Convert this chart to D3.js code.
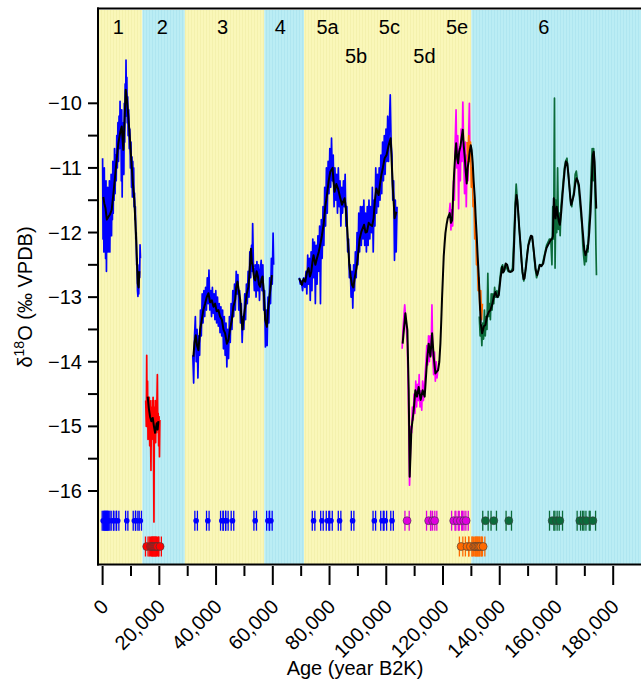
<!DOCTYPE html>
<html><head><meta charset="utf-8">
<script src="https://cdn.jsdelivr.net/npm/d3@7"></script>
<style>body{margin:0;background:#fff}svg{display:block}</style>
</head><body>
<svg id="c" width="641" height="687"></svg>
<script>
// ---------- DATA ----------
const stageBounds = [0, 14000, 29000, 57000, 71000, 130000, 200000];
const stageKind = ['warm','cold','warm','cold','warm','cold'];
const stageLabels = ['1','2','3','4','5a','5b','5c','5d','5e','6'];
const stageLabelAge = [5540, 21070, 42250, 62610, 79310, 89330, 101090, 113440, 124980, 155540];
const stageLabelRow = [0,0,0,0,0,1,0,1,0,0];

const xTicks = [0,20000,40000,60000,80000,100000,120000,140000,160000,180000];
const xTickLabels = ['0','20,000','40,000','60,000','80,000','100,000','120,000','140,000','160,000','180,000'];
const xMinorTicks = [10000,30000,50000,70000,90000,110000,130000,150000,170000];
const yTicks = [-10,-11,-12,-13,-14,-15,-16];
const yTickLabels = ['\u221210','\u221211','\u221212','\u221213','\u221214','\u221215','\u221216'];
const yMinorTicks = [-10.5,-11.5,-12.5,-13.5,-14.5,-15.5];

// raw records [age (yr B2K), d18O]
const rawMIS1 = [[0,-10.85],[150,-12.1],[300,-11.3],[450,-12.3],[600,-11.0],[750,-11.9],[900,-11.4],[1050,-12.4],[1200,-11.2],[1350,-12.6],[1500,-11.5],[1650,-12.2],[1800,-11.3],[1950,-12.3],[2100,-11.5],[2250,-12.0],[2400,-11.2],[2550,-12.3],[2700,-11.6],[2850,-11.9],[3000,-11.1],[3150,-12.05],[3300,-11.3],[3450,-11.8],[3600,-10.9],[3750,-11.7],[3900,-11.0],[4050,-11.5],[4200,-10.7],[4400,-11.4],[4600,-10.8],[4800,-11.2],[5000,-10.5],[5200,-11.0],[5400,-10.3],[5600,-10.9],[5800,-10.2],[6000,-10.7],[6150,-9.97],[6300,-10.6],[6450,-10.2],[6600,-11.2],[6750,-10.1],[6900,-11.45],[7050,-10.4],[7200,-10.9],[7350,-10.3],[7500,-11.1],[7650,-10.0],[7800,-10.6],[7950,-9.7],[8100,-10.2],[8250,-9.33],[8400,-10.0],[8550,-9.6],[8700,-10.3],[8850,-9.9],[9000,-10.5],[9200,-10.1],[9400,-10.7],[9600,-10.4],[9800,-11.0],[10000,-10.6],[10200,-11.3],[10350,-10.83],[10500,-11.45],[10650,-10.9],[10800,-11.3],[10950,-11.0],[11100,-11.6],[11250,-11.39],[11400,-11.8],[11550,-11.6],[11700,-12.1],[11850,-12.0],[12000,-12.5],[12150,-12.4],[12300,-12.9],[12450,-12.99],[12600,-12.6],[12750,-12.95],[12900,-12.5],[13050,-12.7],[13200,-12.19],[13350,-12.4]];
const rawMIS2 = [[15200,-14.6],[15400,-15.0],[15550,-13.9],[15700,-14.9],[15850,-14.3],[16000,-15.2],[16150,-14.6],[16300,-15.0],[16450,-14.55],[16600,-15.3],[16750,-14.6],[16900,-15.1],[17050,-15.68],[17200,-14.7],[17350,-15.2],[17500,-14.6],[17650,-15.1],[17800,-14.55],[17950,-15.3],[18100,-16.48],[18250,-14.7],[18400,-15.2],[18550,-14.6],[18700,-15.25],[18850,-14.7],[19000,-15.1],[19150,-14.6],[19300,-14.2],[19450,-15.0],[19600,-14.8],[19750,-15.3],[19900,-14.85],[20050,-15.47],[20200,-14.9]];
const rawMIS3 = [[31800,-13.9],[32100,-14.33],[32400,-13.6],[32700,-13.3],[33000,-14.0],[33300,-13.5],[33600,-14.25],[33900,-13.6],[34200,-13.9],[34500,-13.2],[34800,-13.6],[35100,-12.95],[35400,-13.4],[35700,-12.9],[36000,-13.3],[36300,-12.85],[36600,-13.2],[36900,-12.7],[37200,-13.1],[37500,-12.58],[37800,-13.2],[38100,-12.9],[38400,-13.3],[38700,-12.85],[39000,-13.25],[39300,-12.95],[39600,-13.35],[39900,-12.9],[40200,-13.4],[40500,-13.0],[40800,-13.45],[41100,-13.1],[41400,-13.55],[41700,-13.15],[42000,-13.6],[42300,-13.2],[42600,-13.8],[42900,-13.3],[43200,-13.9],[43500,-13.4],[43800,-14.08],[44100,-13.5],[44400,-13.95],[44700,-13.3],[45000,-13.7],[45300,-13.1],[45600,-13.5],[45900,-12.9],[46200,-13.3],[46500,-12.8],[46800,-13.2],[47100,-12.6],[47400,-12.95],[47700,-12.65],[48000,-13.2],[48300,-12.9],[48600,-13.4],[48900,-13.1],[49200,-13.7],[49500,-13.3],[49800,-13.5],[50100,-12.95],[50400,-13.35],[50700,-12.8],[51000,-13.1],[51300,-12.6],[51600,-13.0],[51900,-12.3],[52200,-12.7],[52500,-12.2],[52700,-12.6],[52900,-11.86],[53200,-12.6],[53500,-12.9],[53800,-12.5],[54100,-13.0],[54400,-12.45],[54700,-12.9],[55000,-12.5],[55300,-13.05],[55600,-12.6],[55900,-12.43],[56200,-12.9],[56500,-12.5],[56800,-13.2],[57100,-12.9],[57400,-13.77],[57700,-13.2],[58000,-13.75],[58300,-13.0],[58600,-13.4],[58900,-12.7],[59200,-13.1],[59500,-12.4],[59800,-12.8],[60100,-12.01],[60300,-12.5]];
const rawMIS5 = [[69300,-12.7],[69700,-12.8],[70100,-12.75],[70500,-12.9],[70900,-12.7],[71300,-12.85],[71700,-12.6],[72000,-12.95],[72300,-12.35],[72600,-12.8],[72900,-12.4],[73200,-13.05],[73500,-12.3],[73800,-12.9],[74100,-12.1],[74400,-12.7],[74700,-12.15],[75000,-13.1],[75300,-12.2],[75600,-12.8],[75900,-12.05],[76200,-12.6],[76500,-11.9],[76800,-13.1],[77100,-11.8],[77400,-12.4],[77700,-11.6],[78000,-12.2],[78300,-11.3],[78600,-11.9],[78900,-11.0],[79200,-11.7],[79500,-10.9],[79800,-11.4],[80100,-10.7],[80400,-11.3],[80700,-10.54],[81000,-11.2],[81300,-10.8],[81600,-11.6],[81900,-11.0],[82200,-11.5],[82500,-11.1],[82800,-11.7],[83100,-11.0],[83400,-11.6],[83700,-11.2],[84000,-11.9],[84300,-11.3],[84600,-11.7],[84900,-11.2],[85200,-11.6],[85500,-11.1],[85800,-11.9],[86100,-11.6],[86400,-12.3],[86700,-12.1],[87000,-12.7],[87300,-12.5],[87600,-13.0],[87900,-12.6],[88200,-13.17],[88500,-12.5],[88800,-12.9],[89100,-12.3],[89400,-12.7],[89700,-12.0],[90000,-12.5],[90300,-11.7],[90600,-12.3],[90900,-11.6],[91200,-12.2],[91500,-11.6],[91800,-12.1],[92100,-11.5],[92400,-12.2],[92700,-11.7],[93000,-12.3],[93300,-11.6],[93600,-12.2],[93900,-11.5],[94200,-12.1],[94500,-11.6],[94800,-12.0],[95100,-11.3],[95400,-12.3],[95700,-11.5],[96000,-11.9],[96300,-11.0],[96600,-11.7],[96900,-11.1],[97200,-11.6],[97500,-11.0],[97800,-11.5],[98100,-10.8],[98400,-11.4],[98700,-10.6],[99000,-11.2],[99300,-10.5],[99600,-11.1],[99900,-10.4],[100200,-10.9],[100500,-10.2],[100800,-10.9],[101100,-10.3],[101400,-9.87],[101700,-10.6],[102000,-10.8],[102300,-11.5],[102600,-11.2],[102900,-12.43],[103200,-11.5],[103500,-12.3],[103800,-11.6]];
const rawMIS5deA = [[105600,-13.8],[105900,-13.5],[106200,-13.3],[106500,-13.12],[106800,-13.3],[107100,-13.5],[107400,-13.7],[107700,-14.3],[107950,-15.0],[108200,-15.91],[108450,-15.5],[108700,-15.0],[108950,-15.1],[109200,-14.7],[109500,-14.9],[109800,-14.5],[110100,-14.8],[110400,-14.3],[110700,-14.7],[111000,-14.35],[111300,-14.6],[111600,-14.2],[111900,-14.7],[112200,-14.45],[112500,-14.75],[112800,-14.3],[113100,-14.6],[113400,-14.4],[113700,-14.2],[114000,-14.0],[114300,-13.75],[114600,-14.05],[114900,-13.6],[115200,-14.0],[115500,-13.6],[115800,-13.9],[116100,-13.12],[116400,-13.9],[116700,-14.2],[117000,-13.85],[117300,-14.3],[117600,-14.0],[117900,-14.25],[118200,-14.1]];
const rawMIS5deB = [[122200,-11.7],[122500,-11.55],[122800,-11.96],[123100,-11.65],[123400,-11.9],[123700,-11.2],[124000,-11.5],[124300,-10.6],[124600,-10.1],[124900,-11.0],[125200,-10.5],[125500,-11.63],[125800,-10.7],[126100,-11.2],[126400,-10.4],[126700,-10.9],[127000,-9.98],[127300,-10.8],[127600,-11.4],[127900,-10.6],[128200,-11.6],[128500,-10.8],[128800,-11.2],[129100,-10.4],[129300,-10.0],[129500,-10.9]];
const rawTermII = [[128500,-10.6],[128800,-11.0],[129100,-10.5],[129400,-10.9],[129700,-10.6],[130000,-11.3],[130300,-11.0],[130600,-11.6],[130900,-11.5],[131200,-12.1],[131500,-11.9],[131800,-12.5],[132100,-12.4],[132400,-12.9],[132700,-12.7],[133000,-13.2],[133300,-12.9],[133600,-13.35],[133900,-13.1]];
const rawMIS6 = [[132800,-13.3],[133100,-13.6],[133400,-13.45],[133700,-13.75],[134000,-13.4],[134300,-13.65],[134600,-13.2],[134900,-13.6],[135200,-13.3],[135500,-13.5],[135800,-12.63],[136100,-13.3],[136400,-13.1],[136700,-13.35],[137000,-12.95],[137300,-13.2],[137600,-12.95],[137900,-13.1],[138200,-12.85],[138500,-13.0],[139000,-12.9],[139500,-13.0],[140000,-12.75],[140500,-12.55],[141000,-12.5],[141500,-12.6],[142000,-12.5],[142500,-12.55],[143000,-12.6],[143500,-12.6],[144000,-12.6],[144500,-12.55],[145000,-12.1],[145400,-11.6],[145800,-11.25],[146200,-11.5],[146600,-11.75],[147000,-12.0],[147500,-12.3],[148000,-12.62],[148500,-12.75],[149000,-12.6],[149500,-12.4],[150000,-12.2],[150500,-12.1],[151000,-12.05],[151500,-12.1],[152000,-12.3],[152500,-12.55],[153000,-12.7],[153500,-12.6],[154000,-12.5],[154500,-12.5],[155000,-12.5],[155500,-12.4],[156000,-12.3],[156500,-12.2],[157000,-12.15],[157500,-12.1],[158000,-12.1],[158400,-12.5],[158700,-11.6],[159000,-12.1],[159300,-9.92],[159500,-12.55],[159800,-11.5],[160100,-12.0],[160400,-11.0],[160700,-11.95],[161000,-11.7],[161300,-12.05],[161600,-11.6],[162000,-11.4],[162400,-11.2],[162800,-11.0],[163200,-10.9],[163700,-10.85],[164200,-11.1],[164600,-11.3],[165000,-11.55],[165400,-11.6],[165800,-11.45],[166200,-11.35],[166600,-11.1],[167000,-11.05],[167400,-11.2],[167800,-11.3],[168200,-11.5],[168600,-11.7],[169000,-11.9],[169300,-12.2],[169600,-12.37],[169900,-12.5],[170200,-12.3],[170500,-12.45],[170800,-12.2],[171100,-12.3],[171400,-11.9],[171700,-11.7],[172000,-11.4],[172300,-11.0],[172600,-10.7],[172900,-11.2],[173100,-10.7],[173400,-11.0],[173700,-11.6],[173900,-12.2],[174100,-12.66]];

// smoothed composite (black)
const smoothMIS1 = [[250,-11.45],[600,-11.55],[1000,-11.62],[1500,-11.8],[2000,-11.76],[2600,-11.72],[3200,-11.65],[3800,-11.4],[4380,-11.14],[5000,-10.85],[5540,-10.62],[6200,-10.45],[6740,-10.36],[7300,-10.72],[7700,-10.3],[8150,-9.79],[8600,-9.95],[9070,-10.2],[9700,-10.6],[10270,-10.98],[10700,-11.25],[11190,-11.5],[11790,-12.06],[12390,-12.79],[12700,-12.85],[12950,-12.6]];
const smoothMIS2 = [[15900,-14.54],[16300,-14.72],[16730,-14.85],[17200,-14.92],[17680,-14.87],[18100,-15.0],[18500,-15.1],[18800,-15.02],[19090,-14.95],[19400,-15.05],[19680,-14.92]];
const smoothMIS3 = [[32000,-13.92],[32400,-13.7],[32850,-13.59],[33300,-13.75],[33780,-13.82],[34400,-13.5],[34970,-13.35],[35500,-13.2],[36140,-13.1],[36700,-13.0],[37310,-12.94],[37900,-13.08],[38500,-13.05],[39100,-13.15],[39670,-13.1],[40200,-13.22],[40830,-13.2],[41400,-13.3],[42040,-13.35],[42600,-13.5],[43200,-13.56],[43800,-13.72],[44370,-13.66],[44900,-13.5],[45560,-13.35],[46100,-13.15],[46730,-13.04],[47100,-12.85],[47540,-12.76],[48000,-12.9],[48500,-13.04],[48900,-13.3],[49310,-13.5],[49800,-13.3],[50260,-13.15],[50800,-12.95],[51420,-12.84],[51900,-12.55],[52300,-12.25],[52600,-12.45],[52970,-12.53],[53400,-12.7],[53800,-12.74],[54300,-12.6],[54740,-12.68],[55100,-12.8],[55550,-12.84],[56000,-12.72],[56370,-12.68],[56800,-12.9],[57320,-13.35],[57920,-13.46],[58300,-13.2],[58730,-13.04],[59200,-12.85],[59680,-12.66]];
const smoothMIS5 = [[69320,-12.71],[70270,-12.81],[70800,-12.72],[71440,-12.76],[72000,-12.62],[72600,-12.55],[73100,-12.68],[73550,-12.61],[74000,-12.45],[74360,-12.35],[75000,-12.5],[75560,-12.4],[76200,-12.3],[76730,-12.19],[77300,-12.05],[77900,-11.88],[78500,-11.6],[79090,-11.42],[79700,-11.2],[80260,-11.06],[81070,-11.0],[81400,-11.2],[81780,-11.37],[82400,-11.25],[82980,-11.32],[83700,-11.45],[84390,-11.57],[85310,-11.47],[85700,-11.6],[86150,-11.88],[86970,-12.5],[87500,-12.7],[87920,-12.81],[88400,-12.85],[88840,-12.71],[89500,-12.55],[90040,-12.35],[90600,-12.1],[91200,-11.99],[92160,-11.88],[92700,-12.0],[93210,-11.99],[93800,-11.85],[94380,-11.88],[95000,-11.9],[95540,-11.78],[96000,-11.5],[96490,-11.32],[97310,-11.42],[97800,-11.25],[98260,-11.11],[98800,-11.0],[99420,-10.85],[100100,-10.8],[100840,-10.65],[101540,-10.54],[101900,-10.9],[102250,-11.26],[102950,-11.78],[103550,-11.68]];
const smoothMIS5e6 = [[105780,-13.72],[106730,-13.25],[107440,-13.51],[107910,-14.44],[108260,-15.78],[108850,-15.06],[109670,-14.75],[110260,-14.44],[110860,-14.54],[111420,-14.39],[112130,-14.59],[112830,-14.44],[113540,-14.54],[114390,-13.97],[114950,-13.72],[115550,-13.92],[116150,-13.56],[116720,-13.92],[117310,-14.18],[118270,-14.13],[118700,-14.0],[119080,-13.72],[119400,-13.35],[119680,-12.99],[120000,-12.65],[120250,-12.37],[120550,-12.18],[120850,-12.01],[121250,-11.88],[121660,-11.78],[122370,-11.7],[122800,-11.85],[123210,-11.81],[123600,-11.4],[123920,-11.08],[124300,-10.8],[124630,-10.62],[125000,-10.85],[125330,-10.93],[125700,-10.75],[126140,-10.67],[126500,-10.55],[126960,-10.41],[127300,-10.65],[127660,-10.83],[128000,-11.05],[128370,-11.24],[128700,-11.0],[129080,-10.88],[129400,-10.75],[129780,-10.65],[130100,-10.72],[130480,-10.93],[130800,-11.2],[131190,-11.45],[131500,-11.75],[131890,-12.06],[132200,-12.35],[132600,-12.68],[132950,-13.05],[133310,-13.41],[133800,-13.56],[134400,-13.45],[134960,-13.43],[135500,-13.3],[136130,-13.23],[136700,-13.2],[137320,-13.12],[137900,-13.0],[138490,-12.92],[139100,-13.0],[139660,-12.97],[140300,-12.7],[140860,-12.53],[141200,-12.62],[141670,-12.58],[142100,-12.48],[142620,-12.5],[143200,-12.6],[143790,-12.61],[144300,-12.6],[144740,-12.58],[145000,-12.25],[145310,-11.88],[145600,-11.55],[145910,-11.42],[146200,-11.5],[146510,-11.68],[146900,-11.95],[147320,-12.19],[147700,-12.45],[148030,-12.61],[148400,-12.72],[148730,-12.71],[149200,-12.55],[149680,-12.35],[150100,-12.2],[150600,-12.12],[151000,-12.05],[151450,-12.06],[151850,-12.22],[152260,-12.4],[152700,-12.58],[153210,-12.66],[153700,-12.58],[154130,-12.5],[154700,-12.52],[155330,-12.48],[155900,-12.35],[156490,-12.24],[157200,-12.18],[157900,-12.12],[158400,-12.1],[158730,-12.06],[159060,-11.47],[159350,-11.65],[159660,-11.78],[160100,-11.6],[160480,-11.73],[160800,-11.82],[161190,-11.88],[161650,-11.7],[162130,-11.42],[162550,-11.2],[162950,-11.01],[163350,-10.9],[163790,-10.93],[164150,-11.08],[164500,-11.26],[164850,-11.45],[165210,-11.57],[165650,-11.5],[166130,-11.42],[166600,-11.25],[167080,-11.16],[167500,-11.2],[167900,-11.26],[168300,-11.45],[168740,-11.68],[169100,-11.9],[169460,-12.09],[169850,-12.28],[170250,-12.35],[170650,-12.28],[171070,-12.24],[171550,-12.0],[172020,-11.68],[172450,-11.2],[172830,-10.8],[173130,-10.75],[173430,-10.9],[173750,-11.3],[174030,-11.63]];

// U-Th dates: age and 2-sigma error (yr)
const datesBlue = [200,600,1000,1400,1800,2200,3420,4380,5330,8510,11190,12030,13300,32970,37090,42030,42950,43800,45780,53790,58270,59330,74370,77330,79300,80510,83540,88130,95790,98500,99670,102040];
const errBlue   = [350,350,350,350,350,350,400,400,400,400,400,400,400,450,450,450,450,450,450,450,450,450,450,450,450,450,450,450,450,450,450,450];
const datesMagenta = [107330,114950,116360,117070,123780,124980,126140,127310,128150];
const errMagenta   = [750,750,750,750,750,750,750,750,750];
const datesGreen = [134960,137890,143190,158500,160020,161180,168240,169440,170610,172830];
const errGreen   = [950,950,950,950,950,950,950,950,950,950];
const datesRed = [15560,16900,17300,17700,18100,18500,18900,19300,20260];
const errRed   = [450,450,450,450,450,450,450,450,450];
const datesOrange = [126390,128500,129660,130830,131300,131800,132300,132800,133300,134150];
const errOrange   = [600,600,600,600,600,600,600,600,600,600];

// ---------- DRAW ----------
const FONT = "'Liberation Sans', Arial, Helvetica, sans-serif";
const col = {blue:'#0000ff', red:'#ff0000', magenta:'#ff00ff', orange:'#ff6a00', green:'#0b6b3a', black:'#000000'};
const svg = d3.select('#c');
const pL = 98, pR = 641, pT = 10, pB = 564;
const x = d3.scaleLinear().domain([-1624, 189800]).range([pL, pR]);
const y = d3.scaleLinear().domain([-17.13, -8.556]).range([pB, pT]);

const defs = svg.append('defs');
function pattern(id, base, ln){
  const p = defs.append('pattern').attr('id', id).attr('patternUnits','userSpaceOnUse').attr('width',3).attr('height',8);
  p.append('rect').attr('width',3).attr('height',8).attr('fill',base);
  p.append('rect').attr('x',2).attr('width',1).attr('height',8).attr('fill',ln);
}
pattern('pwarm', '#faf7b9', '#f4f1ad');
pattern('pcold', '#bbedf4', '#afe6f0');
defs.append('clipPath').attr('id','clip').append('rect').attr('x',pL).attr('y',pT).attr('width',pR-pL).attr('height',pB-pT);

const plot = svg.append('g').attr('clip-path','url(#clip)');
stageKind.forEach((k,i)=>{
  const a = i===0 ? x.domain()[0] : stageBounds[i];
  const b = stageBounds[i+1];
  plot.append('rect').attr('x', x(a)).attr('y', pT).attr('width', x(b)-x(a)).attr('height', pB-pT)
    .attr('fill', `url(#p${k})`);
});

const lineGen = d3.line().x(d=>x(d[0])).y(d=>y(d[1]));
const rawSeries = [[rawMIS1,col.blue],[rawMIS2,col.red],[rawMIS3,col.blue],[rawMIS5,col.blue],
  [rawMIS5deA,col.magenta],[rawMIS5deB,col.magenta],[rawTermII,col.orange],[rawMIS6,col.green]];
rawSeries.forEach(([d,c])=>{
  plot.append('path').datum(d).attr('d', lineGen).attr('fill','none').attr('stroke', c)
    .attr('stroke-width', 1.7).attr('stroke-linejoin','round');
});
[smoothMIS1, smoothMIS2, smoothMIS3, smoothMIS5, smoothMIS5e6].forEach(d=>{
  plot.append('path').datum(d).attr('d', lineGen)
    .attr('fill','none').attr('stroke', col.black).attr('stroke-width', 2).attr('stroke-linejoin','round');
});

// dates
const row1 = 520.7, row2 = 546.5;
function dates(ages, errs, c, rowY, r, outline){
  const g = plot.append('g');
  ages.forEach((a,i)=>{
    const x0 = x(a-errs[i]), x1 = x(a+errs[i]);
    g.append('line').attr('x1',x0).attr('x2',x1).attr('y1',rowY).attr('y2',rowY).attr('stroke',c).attr('stroke-width',1.3);
    [x0,x1].forEach(xx=>g.append('line').attr('x1',xx).attr('x2',xx).attr('y1',rowY-10).attr('y2',rowY+10).attr('stroke',c).attr('stroke-width',1.3));
  });
  ages.forEach(a=>{
    g.append('circle').attr('cx',x(a)).attr('cy',rowY).attr('r',r).attr('fill',c)
      .attr('stroke', outline ? '#3a3a3a' : 'none').attr('stroke-width', 0.6);
  });
}
dates(datesBlue, errBlue, col.blue, row1, 2.8, false);
dates(datesMagenta, errMagenta, '#e000e0', row1, 4, true);
dates(datesGreen, errGreen, col.green, row1, 4, true);
dates(datesRed, errRed, col.red, row2, 4, true);
dates(datesOrange, errOrange, col.orange, row2, 4, true);

// frame
svg.append('line').attr('x1',pL-1).attr('x2',pR).attr('y1',8.5).attr('y2',8.5).attr('stroke','#000').attr('stroke-width',2);
svg.append('line').attr('x1',pL).attr('x2',pL).attr('y1',7.5).attr('y2',pB+1.5).attr('stroke','#000').attr('stroke-width',2);
svg.append('line').attr('x1',pL-1).attr('x2',pR).attr('y1',pB+0.5).attr('y2',pB+0.5).attr('stroke','#000').attr('stroke-width',2);

// x axis ticks
const ax = svg.append('g');
xTicks.forEach(t=>ax.append('line').attr('x1',x(t)).attr('x2',x(t)).attr('y1',pB+2).attr('y2',pB+21).attr('stroke','#000').attr('stroke-width',2));
xMinorTicks.forEach(t=>ax.append('line').attr('x1',x(t)).attr('x2',x(t)).attr('y1',pB+2).attr('y2',pB+12).attr('stroke','#000').attr('stroke-width',2));
xTicks.forEach((t,i)=>ax.append('text').attr('transform',`translate(${x(t)+7},608) rotate(-45)`)
  .attr('text-anchor','end').attr('font-family',FONT).attr('font-size',20).text(xTickLabels[i]));
ax.append('text').attr('x',355).attr('y',675).attr('text-anchor','middle').attr('font-family',FONT).attr('font-size',20).text('Age (year B2K)');

// y axis ticks
yTicks.concat(yMinorTicks).forEach(t=>ax.append('line').attr('x1',pL-10).attr('x2',pL).attr('y1',y(t)).attr('y2',y(t)).attr('stroke','#000').attr('stroke-width',2));
yTicks.forEach((t,i)=>ax.append('text').attr('x',82).attr('y',y(t)+7).attr('text-anchor','end').attr('font-family',FONT).attr('font-size',20).text(yTickLabels[i]));
const yt = ax.append('text').attr('transform','translate(32,297) rotate(-90)').attr('text-anchor','middle').attr('font-family',FONT).attr('font-size',20);
yt.append('tspan').text('\u03b4');
yt.append('tspan').attr('font-size',14).attr('dy',-8).text('18');
yt.append('tspan').attr('dy',8).text('O (\u2030 VPDB)');

// stage labels
stageLabels.forEach((s,i)=>svg.append('text').attr('x',x(stageLabelAge[i])).attr('y',stageLabelRow[i]?63:34)
  .attr('text-anchor','middle').attr('font-family',FONT).attr('font-size',20).text(s));
</script>
</body></html>
